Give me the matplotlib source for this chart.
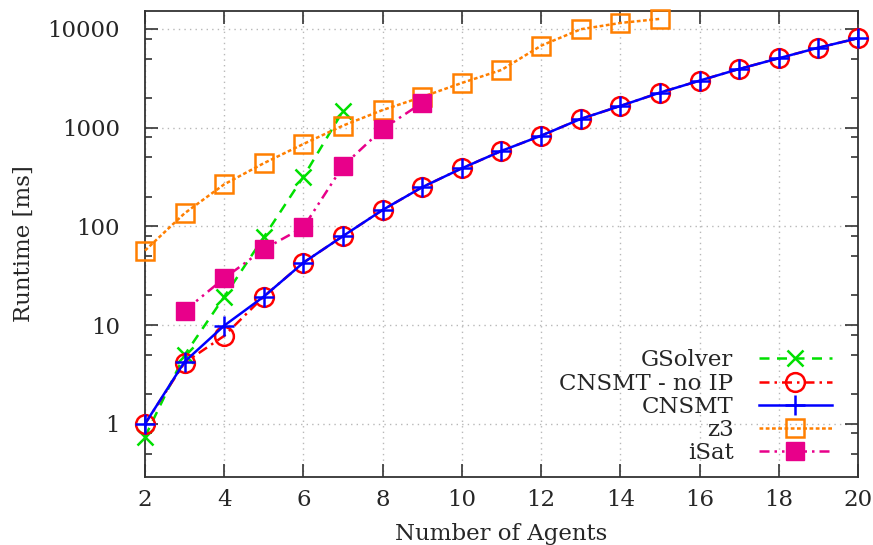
import matplotlib
matplotlib.use("Agg")
import matplotlib.pyplot as plt
from matplotlib.ticker import FixedLocator, NullLocator, FuncFormatter

# Runtime measurements (ms) per number of agents
agents_gsolver = [2, 3, 4, 5, 6, 7]
gsolver = [0.74, 5.0, 19.4, 78, 319, 1480]

agents_cnsmt = list(range(2, 21))
cnsmt_no_ip = [1.0, 4.17, 7.8, 19.5, 43, 80, 147, 250, 388, 582, 830, 1227,
               1660, 2265, 2995, 3935, 5050, 6460, 8050]
cnsmt = [1.0, 4.27, 9.9, 19.5, 43, 80, 147, 250, 388, 582, 830, 1227,
         1660, 2265, 2995, 3935, 5050, 6460, 8050]

agents_z3 = list(range(2, 16))
z3 = [57, 136, 267, 437, 684, 1050, 1510, 2050, 2840, 3845, 6770, 9930,
      11500, 12650]

agents_isat = [3, 4, 5, 6, 7, 8, 9]
isat = [14, 29.9, 58.8, 98, 410, 970, 1790]

x_ticks = [2, 4, 6, 8, 10, 12, 14, 16, 18, 20]
y_ticks = [1, 10, 100, 1000, 10000]

plt.rcParams['font.family'] = ['DejaVu Serif']
plt.rcParams['font.size'] = 16.5
text_color = '#262626'

fig = plt.figure(figsize=(8.73, 5.45), dpi=100)
ax = fig.add_axes([145 / 873, 1 - 477 / 545, 713 / 873, 466 / 545])

lw = 1.8
common = dict(lw=lw, clip_on=False)
ax.plot(agents_gsolver, gsolver, color='#00e000', ls=(0, (4, 3)),
        marker='x', ms=11, mew=1.8, label='GSolver', zorder=3, **common)
ax.plot(agents_cnsmt, cnsmt_no_ip, color='#ff0000', ls=(0, (4, 2, 1, 2)),
        marker='o', ms=13.5, mew=1.8, mfc='none', label='CNSMT - no IP',
        zorder=3, **common)
ax.plot(agents_cnsmt, cnsmt, color='#0000ff', ls='-',
        marker='+', ms=15, mew=1.8, label='CNSMT', zorder=4, **common)
ax.plot(agents_z3, z3, color='#ff7f00', ls=(0, (1.5, 1)),
        marker='s', ms=12.5, mew=1.8, mfc='none', label='z3', zorder=3,
        **common)
ax.plot(agents_isat, isat, color='#e8008a', ls=(0, (4, 2, 1, 2, 1, 2)),
        marker='s', ms=13, mew=1, mfc='#e8008a', label='iSat', zorder=3,
        **common)

ax.set_yscale('log')
ax.set_xlim(2, 20)
ax.set_ylim(0.29, 15200)

ax.xaxis.set_major_locator(FixedLocator(x_ticks))
ax.xaxis.set_minor_locator(NullLocator())
ax.yaxis.set_major_locator(FixedLocator(y_ticks))
minor = [m * 10 ** e for e in range(-1, 5) for m in (2, 5, 8)]
ax.yaxis.set_minor_locator(FixedLocator(minor))
ax.yaxis.set_major_formatter(FuncFormatter(lambda v, p: f"{v:g}"))
ax.yaxis.set_minor_formatter(FuncFormatter(lambda v, p: ""))
ax.xaxis.set_major_formatter(FuncFormatter(lambda v, p: f"{v:g}"))

ax.tick_params(which='both', direction='in', top=True, right=True,
               colors='#333333', labelcolor=text_color, width=1.2)
ax.tick_params(which='major', length=9.5)
ax.tick_params(which='minor', length=5)
ax.tick_params(axis='y', which='major', pad=18)
ax.tick_params(axis='x', which='major', pad=9)

for s in ax.spines.values():
    s.set_color('#333333')
    s.set_linewidth(1.3)

ax.grid(True, which='major', color='#b8b8b8', ls=(0, (1, 3)), lw=1.0)
ax.set_axisbelow(True)

ax.set_xlabel('Number of Agents', color=text_color, labelpad=8)
ax.set_ylabel('Runtime [ms]', color=text_color, labelpad=9)

leg = ax.legend(loc='lower right',
                bbox_to_anchor=((832 - 145) / 713, (477 - 464) / 466),
                frameon=False, markerfirst=False, handlelength=3.2,
                borderaxespad=0, borderpad=0, labelspacing=0.05,
                handletextpad=1.1)
for t in leg.get_texts():
    t.set_color(text_color)
# right-align the entries so the labels end flush against their keys
for col in leg._legend_handle_box.get_children():
    col.align = 'right'

fig.savefig('out.png', dpi=100)
